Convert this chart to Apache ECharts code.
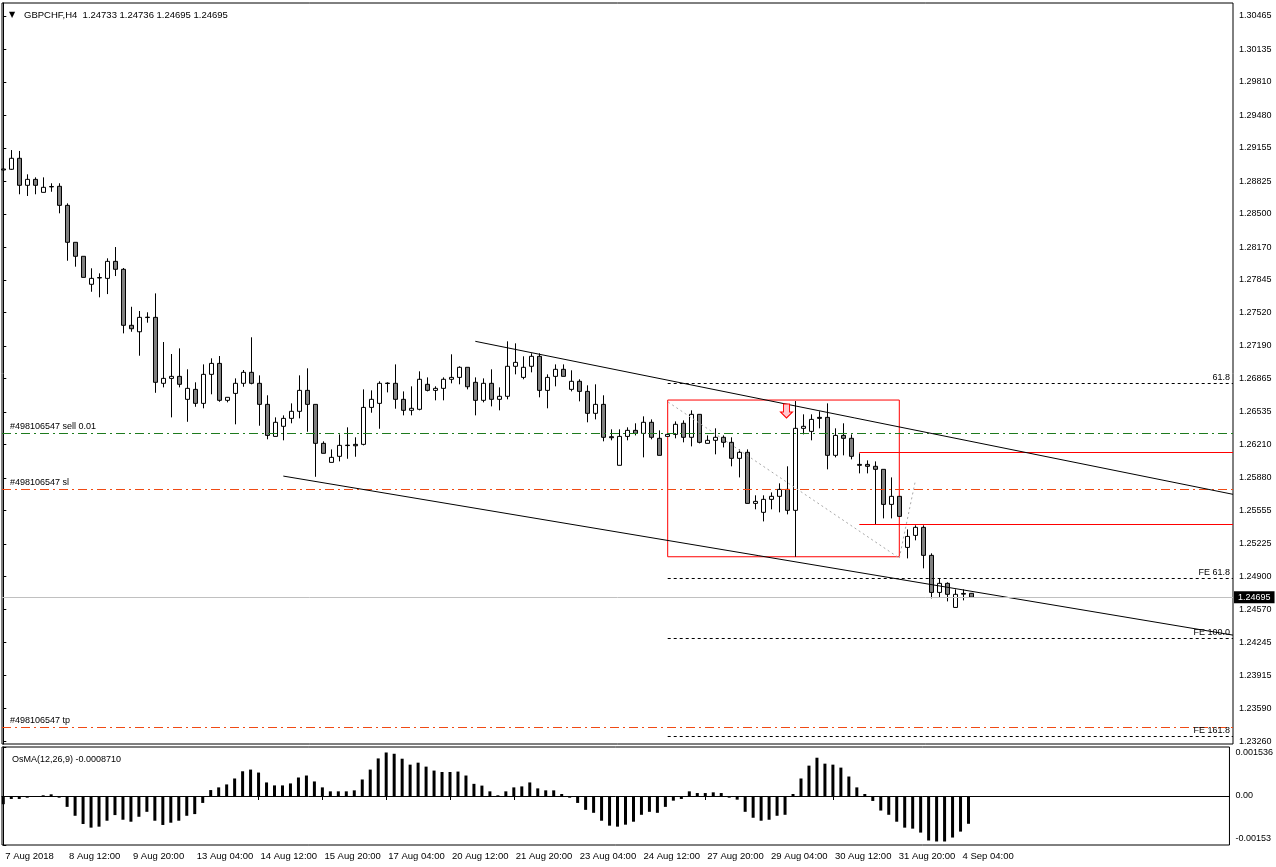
<!DOCTYPE html>
<html><head><meta charset="utf-8">
<script src="https://cdn.jsdelivr.net/npm/echarts@6/dist/echarts.min.js"></script>
<style>html,body{margin:0;padding:0;background:#fff}#c{width:1276px;height:867px}</style>
</head><body><div id="c"></div>
<script>
// ---------- DATA ----------
const xTickIndex = [0, 8, 16, 24, 32, 40, 48, 56, 64, 72, 80, 88, 96, 104, 112, 120];
const xTickLabels = ['7 Aug 2018', '8 Aug 12:00', '9 Aug 20:00', '13 Aug 04:00', '14 Aug 12:00', '15 Aug 20:00',
  '17 Aug 04:00', '20 Aug 12:00', '21 Aug 20:00', '23 Aug 04:00', '24 Aug 12:00', '27 Aug 20:00',
  '29 Aug 04:00', '30 Aug 12:00', '31 Aug 20:00', '4 Sep 04:00'];
const yTickLabels = ['1.30465', '1.30135', '1.29810', '1.29480', '1.29155', '1.28825', '1.28500', '1.28170',
  '1.27845', '1.27520', '1.27190', '1.26865', '1.26535', '1.26210', '1.25880', '1.25555', '1.25225',
  '1.24900', '1.24570', '1.24245', '1.23915', '1.23590', '1.23260'];
const osmaTickValues = [0.001536, 0, -0.001536];
const osmaTickLabels = ['0.001536', '0.00', '-0.00153'];

// H4 candles, each [open, close, low, high]
const candles = [
  [1.28946, 1.28936, 1.28906, 1.28985], [1.28943, 1.29052, 1.28936, 1.29134], [1.29052, 1.28784, 1.28695, 1.29125],
  [1.28784, 1.28843, 1.28678, 1.28893], [1.28843, 1.28784, 1.28695, 1.28863], [1.28714, 1.28764, 1.28714, 1.28863],
  [1.28772, 1.28768, 1.28720, 1.28804], [1.28774, 1.28585, 1.28506, 1.28804], [1.28585, 1.28218, 1.28035, 1.28605],
  [1.28218, 1.28079, 1.27976, 1.28218], [1.28079, 1.27870, 1.27870, 1.28079], [1.27801, 1.27860, 1.27727, 1.27960],
  [1.27868, 1.27864, 1.27672, 1.27910], [1.27860, 1.28029, 1.27704, 1.28059], [1.28029, 1.27950, 1.27883, 1.28171],
  [1.27950, 1.27394, 1.27314, 1.27963], [1.27394, 1.27360, 1.27330, 1.27578], [1.27330, 1.27473, 1.27092, 1.27536],
  [1.27475, 1.27471, 1.27420, 1.27523], [1.27473, 1.26828, 1.26724, 1.27711], [1.26818, 1.26867, 1.26778, 1.27228],
  [1.26867, 1.26887, 1.26480, 1.27109], [1.26887, 1.26808, 1.26778, 1.27165], [1.26659, 1.26768, 1.26436, 1.26957],
  [1.26758, 1.26619, 1.26585, 1.26828], [1.26619, 1.26907, 1.26570, 1.27006], [1.26907, 1.27016, 1.26709, 1.27066],
  [1.27016, 1.26649, 1.26635, 1.27089], [1.26649, 1.26679, 1.26629, 1.26679], [1.26718, 1.26818, 1.26411, 1.26867],
  [1.26818, 1.26927, 1.26784, 1.26950], [1.26927, 1.26818, 1.26808, 1.27275], [1.26818, 1.26609, 1.26397, 1.26897],
  [1.26609, 1.26301, 1.26262, 1.26699], [1.26291, 1.26431, 1.26291, 1.26480], [1.26391, 1.26470, 1.26252, 1.26500],
  [1.26470, 1.26540, 1.26421, 1.26619], [1.26540, 1.26748, 1.26470, 1.26897], [1.26748, 1.26609, 1.26337, 1.26967],
  [1.26609, 1.26222, 1.25890, 1.26609], [1.26222, 1.26123, 1.26123, 1.26242], [1.26033, 1.26083, 1.26033, 1.26162],
  [1.26093, 1.26202, 1.26043, 1.26311], [1.26204, 1.26200, 1.26069, 1.26381], [1.26212, 1.26198, 1.26089, 1.26282],
  [1.26212, 1.26579, 1.26202, 1.26758], [1.26579, 1.26659, 1.26526, 1.26748], [1.26619, 1.26818, 1.26367, 1.26838],
  [1.26820, 1.26816, 1.26728, 1.26828], [1.26818, 1.26659, 1.26566, 1.27006], [1.26659, 1.26550, 1.26500, 1.26738],
  [1.26550, 1.26570, 1.26500, 1.26788], [1.26560, 1.26858, 1.26550, 1.26937], [1.26808, 1.26748, 1.26738, 1.26877],
  [1.26748, 1.26768, 1.26649, 1.26788], [1.26768, 1.26858, 1.26649, 1.26877], [1.26858, 1.26877, 1.26818, 1.27106],
  [1.26877, 1.26977, 1.26808, 1.26987], [1.26977, 1.26784, 1.26758, 1.26977], [1.26828, 1.26649, 1.26500, 1.26877],
  [1.26649, 1.26818, 1.26629, 1.26867], [1.26818, 1.26659, 1.26589, 1.26957], [1.26659, 1.26689, 1.26550, 1.26778],
  [1.26689, 1.26987, 1.26659, 1.27235], [1.26987, 1.27026, 1.26907, 1.27215], [1.26877, 1.26977, 1.26858, 1.27086],
  [1.26987, 1.27086, 1.26927, 1.27116], [1.27086, 1.26748, 1.26679, 1.27116], [1.26748, 1.26877, 1.26570, 1.26907],
  [1.26887, 1.26957, 1.26788, 1.27006], [1.26957, 1.26887, 1.26887, 1.27006], [1.26758, 1.26838, 1.26738, 1.26947],
  [1.26838, 1.26738, 1.26639, 1.26858], [1.26738, 1.26520, 1.26431, 1.26798], [1.26520, 1.26609, 1.26460, 1.26808],
  [1.26609, 1.26282, 1.26242, 1.26699], [1.26288, 1.26278, 1.26252, 1.26361], [1.26004, 1.26291, 1.26004, 1.26361],
  [1.26291, 1.26351, 1.26252, 1.26381], [1.26351, 1.26321, 1.26301, 1.26421], [1.26321, 1.26431, 1.26083, 1.26490],
  [1.26431, 1.26282, 1.26262, 1.26460], [1.26272, 1.26103, 1.26103, 1.26351], [1.26291, 1.26311, 1.26291, 1.26321],
  [1.26311, 1.26411, 1.26272, 1.26440], [1.26421, 1.26282, 1.26232, 1.26450], [1.26282, 1.26510, 1.26192, 1.26550],
  [1.26510, 1.26232, 1.26222, 1.26510], [1.26222, 1.26252, 1.26222, 1.26301], [1.26252, 1.26282, 1.26113, 1.26371],
  [1.26282, 1.26232, 1.26182, 1.26301], [1.26232, 1.26073, 1.25994, 1.26282], [1.26073, 1.26133, 1.25884, 1.26162],
  [1.26133, 1.25626, 1.25626, 1.26162], [1.25626, 1.25646, 1.25567, 1.25706], [1.25537, 1.25666, 1.25447, 1.25706],
  [1.25666, 1.25696, 1.25567, 1.25735], [1.25696, 1.25765, 1.25537, 1.25825], [1.25765, 1.25557, 1.25517, 1.25994],
  [1.25557, 1.26371, 1.25096, 1.26642], [1.26371, 1.26391, 1.26311, 1.26510], [1.26341, 1.26460, 1.26252, 1.26510],
  [1.26480, 1.26470, 1.26371, 1.26540], [1.26480, 1.26103, 1.25964, 1.26619], [1.26103, 1.26301, 1.26083, 1.26371],
  [1.26301, 1.26272, 1.26103, 1.26421], [1.26272, 1.26093, 1.26063, 1.26311], [1.26013, 1.26004, 1.25924, 1.26123],
  [1.26013, 1.25994, 1.25924, 1.26053], [1.25994, 1.25964, 1.25418, 1.26043], [1.25964, 1.25616, 1.25477, 1.25964],
  [1.25616, 1.25696, 1.25477, 1.25884], [1.25696, 1.25497, 1.25497, 1.25696], [1.25189, 1.25298, 1.25080, 1.25368],
  [1.25308, 1.25388, 1.25259, 1.25408], [1.25388, 1.25110, 1.24981, 1.25408], [1.25110, 1.24742, 1.24683, 1.25130],
  [1.24742, 1.24832, 1.24693, 1.24881], [1.24832, 1.24723, 1.24653, 1.24842], [1.24593, 1.24723, 1.24593, 1.24772],
  [1.24732, 1.24725, 1.24663, 1.24772], [1.24733, 1.24695, 1.24695, 1.24736]
];

// OsMA(12,26,9) histogram, one value per candle
const osma = [
  -0.000257, -0.000093, -0.000093, -0.000053, -0.000031, 0.000022, 0.000053, -0.000053, -0.000341, -0.000620,
  -0.000877, -0.000992, -0.000961, -0.000775, -0.000598, -0.000744, -0.000806, -0.000651, -0.000496, -0.000775,
  -0.000908, -0.000837, -0.000775, -0.000620, -0.000567, -0.000217, 0.000186, 0.000270, 0.000363, 0.000549,
  0.000775, 0.000828, 0.000735, 0.000425, 0.000332, 0.000332, 0.000394, 0.000580, 0.000642, 0.000456,
  0.000270, 0.000146, 0.000146, 0.000146, 0.000177, 0.000518, 0.000828, 0.001178, 0.001364, 0.001324,
  0.001169, 0.000983, 0.001045, 0.000921, 0.000797, 0.000753, 0.000753, 0.000766, 0.000642, 0.000381,
  0.000326, 0.000146, 0.000022, 0.000146, 0.000270, 0.000301, 0.000425, 0.000239, 0.000177, 0.000177,
  0.000062, -0.000053, -0.000217, -0.000434, -0.000527, -0.000775, -0.000930, -0.000961, -0.000899, -0.000806,
  -0.000589, -0.000496, -0.000527, -0.000341, -0.000146, -0.000093, 0.000146, 0.000093, 0.000093, 0.000115,
  0.000093, -0.000053, -0.000115, -0.000496, -0.000682, -0.000775, -0.000744, -0.000620, -0.000589, 0.000062,
  0.000549, 0.000952, 0.001200, 0.001014, 0.000983, 0.000890, 0.000611, 0.000270, 0.000062, -0.000155,
  -0.000456, -0.000589, -0.000806, -0.000992, -0.001023, -0.001147, -0.001395, -0.001426, -0.001426, -0.001302,
  -0.001116, -0.000871
];

const lastPrice = 1.24695;
const orderLevels = [
  { name: '#498106547 sell 0.01', price: 1.26321, kind: 'open' },
  { name: '#498106547 sl', price: 1.25765, kind: 'stop' },
  { name: '#498106547 tp', price: 1.23402, kind: 'stop' }
];
const fibLevels = [
  { name: '61.8', price: 1.26818 },
  { name: 'FE 61.8', price: 1.24881 },
  { name: 'FE 100.0', price: 1.24286 },
  { name: 'FE 161.8', price: 1.23315 }
];
const fibStartIndex = 83.05;
const redLevels = [ { from: 107, price: 1.26133 }, { from: 107, price: 1.25418 } ];
const rangeBox = [[83.05, 1.26652], [112, 1.25096]];
const upperTrend = [[59, 1.27235], [153.7125, 1.25716]];
const lowerTrend = [[35, 1.25897], [153.7125, 1.24318]];
const expansionPath = [[83.1, 1.26632], [112, 1.25083], [114, 1.25848]];
const sellArrow = [97.9, 1.26543];

// ---------- CHART ----------
const FONT = "'Liberation Sans', Arial, sans-serif";
const xMin = -0.1625, xMax = 153.7125;
const chart = echarts.init(document.getElementById('c'), null, { renderer: 'canvas' });

const markLineData = [];
orderLevels.forEach(o => {
  markLineData.push({
    name: o.name, yAxis: o.price,
    lineStyle: { color: o.kind === 'open' ? '#1E7B1E' : '#F04A14', type: [9, 4, 2, 4], width: 1 },
    label: { show: true, position: 'insideStartTop', formatter: '{b}', color: '#000', fontSize: 9, fontFamily: FONT, distance: [8, 2] }
  });
});
fibLevels.forEach(f => {
  markLineData.push([
    { name: f.name, coord: [fibStartIndex, f.price],
      lineStyle: { color: '#000', type: [3, 3], width: 1 },
      label: { show: true, position: 'insideEndTop', formatter: '{b}', color: '#000', fontSize: 9, fontFamily: FONT, distance: [3, 1] } },
    { coord: [xMax, f.price] }
  ]);
});
redLevels.forEach(r => {
  markLineData.push([
    { coord: [r.from, r.price], lineStyle: { color: '#FF0000', type: 'solid', width: 1 }, label: { show: false } },
    { coord: [xMax, r.price] }
  ]);
});
[upperTrend, lowerTrend].forEach(t => {
  markLineData.push([
    { coord: t[0], lineStyle: { color: '#000', type: 'solid', width: 1 }, label: { show: false } },
    { coord: t[1] }
  ]);
});
for (let i = 0; i < expansionPath.length - 1; i++) {
  markLineData.push([
    { coord: expansionPath[i], lineStyle: { color: '#A8A8A8', type: [2, 3], width: 1 }, label: { show: false } },
    { coord: expansionPath[i + 1] }
  ]);
}
markLineData.push({
  name: lastPrice.toFixed(5), yAxis: lastPrice,
  lineStyle: { color: '#C0C0C0', type: 'solid', width: 1 },
  label: { show: true, position: 'end', formatter: '{b}', color: '#fff', backgroundColor: '#000',
    fontSize: 9, fontFamily: FONT, padding: [2, 4, 1, 4], distance: 1 }
});

const option = {
  animation: false,
  backgroundColor: '#fff',
  textStyle: { fontFamily: FONT },
  title: [
    { left: 4, top: 5, text: '{tri|▼}{t|GBPCHF,H4  1.24733 1.24736 1.24695 1.24695}',
      textStyle: { fontWeight: 'normal', rich: { tri: { fontSize: 8, width: 15, color: '#000', fontFamily: 'DejaVu Sans', fontWeight: 'normal' },
        t: { fontSize: 9.5, color: '#000', fontFamily: FONT, fontWeight: 'normal' } } } },
    { left: 7, top: 750, text: 'OsMA(12,26,9) -0.0008710',
      textStyle: { fontSize: 9, fontWeight: 'normal', color: '#000', fontFamily: FONT } }
  ],
  grid: [
    { left: 2, right: 43, top: 3, height: 741, show: true, borderColor: '#000', borderWidth: 1, backgroundColor: '#fff' },
    { left: 2, right: 43, top: 747, height: 98, show: true, borderColor: '#000', borderWidth: 1, backgroundColor: '#fff' }
  ],
  xAxis: [
    { type: 'value', gridIndex: 0, min: xMin, max: xMax, show: false },
    { type: 'value', gridIndex: 1, min: xMin, max: xMax,
      axisLine: { show: true, lineStyle: { color: '#000' } },
      axisTick: { show: true, length: 4, customValues: xTickIndex, lineStyle: { color: '#000' } },
      axisLabel: { customValues: xTickIndex, formatter: v => xTickLabels[xTickIndex.indexOf(v)] || '',
        align: 'left', margin: 6, fontSize: 9.5, color: '#000', fontFamily: FONT, padding: [0, 0, 0, 2] },
      splitLine: { show: false } }
  ],
  yAxis: [
    { type: 'value', gridIndex: 0, position: 'right', min: 1.23237, max: 1.30594,
      axisLine: { show: true, lineStyle: { color: '#000' } },
      axisTick: { show: true, length: 3, customValues: yTickLabels.map(Number), lineStyle: { color: '#000' } },
      axisLabel: { customValues: yTickLabels.map(Number), formatter: v => v.toFixed(5), margin: 6,
        fontSize: 9, color: '#000', fontFamily: FONT },
      splitLine: { show: false } },
    { type: 'value', gridIndex: 1, position: 'right', min: -0.001536, max: 0.001536,
      axisLine: { show: true, lineStyle: { color: '#000' } },
      axisTick: { show: true, length: 3, customValues: osmaTickValues, lineStyle: { color: '#000' } },
      axisLabel: { customValues: osmaTickValues, margin: 6, fontSize: 9, lineHeight: 12, color: '#000', fontFamily: FONT,
        formatter: v => { const i = osmaTickValues.indexOf(v); const s = osmaTickLabels[i];
          return i === 0 ? '\n' + s : (i === 2 ? s + '\n' : s); } },
      splitLine: { show: false } }
  ],
  series: [
    {
      type: 'candlestick', xAxisIndex: 0, yAxisIndex: 0,
      data: candles.map((c, i) => [i, c[0], c[1], c[2], c[3]]),
      encode: { x: 0, y: [1, 2, 3, 4] },
      barWidth: 5,
      itemStyle: { color: '#fff', color0: '#808080', borderColor: '#000', borderColor0: '#000', borderWidth: 1 },
      markLine: { silent: true, precision: 5, symbol: ['none', 'none'], animation: false, data: markLineData },
      markArea: { silent: true, data: [[
        { coord: rangeBox[0], itemStyle: { color: 'rgba(0,0,0,0)', borderColor: '#FF0000', borderWidth: 1 } },
        { coord: rangeBox[1] }
      ]], label: { show: false } },
      markPoint: { silent: true, animation: false, data: [{
        coord: sellArrow, symbol: 'path://M3,0 L9,0 L9,8 L12,8 L6,14 L0,8 L3,8 Z', symbolSize: [12, 14],
        itemStyle: { color: '#FFC8D0', borderColor: '#FF0000', borderWidth: 1 }, label: { show: false }
      }] }
    },
    {
      type: 'bar', xAxisIndex: 1, yAxisIndex: 1,
      data: osma.map((v, i) => [i, v]),
      barWidth: 3,
      itemStyle: { color: '#000' }
    }
  ]
};
chart.setOption(option);
</script>
</body></html>
